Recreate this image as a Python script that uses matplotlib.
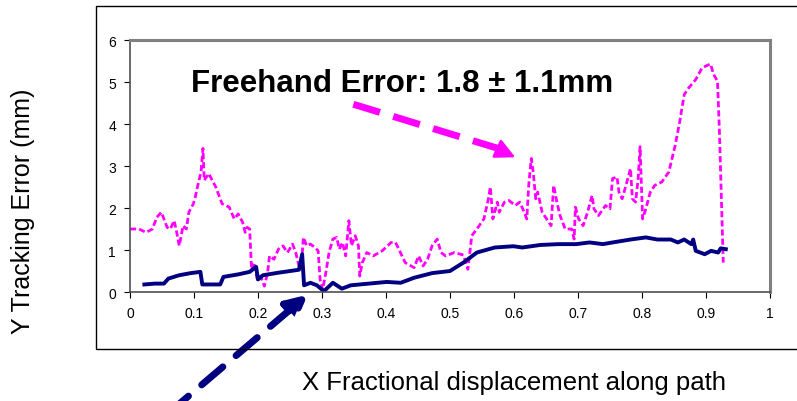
import matplotlib.pyplot as plt
from matplotlib.patches import Rectangle

plt.rcParams['font.family'] = ['Liberation Sans', 'DejaVu Sans']

# guided (navy) tracking error
guided_x = [0.0225, 0.039, 0.053, 0.06, 0.077, 0.095, 0.11, 0.113, 0.141, 0.146,
            0.169, 0.187, 0.197, 0.2, 0.208, 0.232, 0.264, 0.269, 0.272, 0.282,
            0.292, 0.303, 0.317, 0.331, 0.345, 0.373, 0.401, 0.423, 0.444, 0.472,
            0.5, 0.521, 0.542, 0.57, 0.599, 0.613, 0.641, 0.669, 0.697, 0.718,
            0.739, 0.754, 0.782, 0.806, 0.824, 0.845, 0.856, 0.866, 0.877, 0.88,
            0.884, 0.898, 0.908, 0.919, 0.923, 0.931]
guided_y = [0.18, 0.2, 0.2, 0.32, 0.4, 0.45, 0.48, 0.18, 0.18, 0.36,
            0.42, 0.48, 0.6, 0.3, 0.4, 0.46, 0.53, 0.9, 0.16, 0.22,
            0.16, 0.02, 0.22, 0.08, 0.16, 0.2, 0.24, 0.22, 0.34, 0.45,
            0.5, 0.7, 0.94, 1.06, 1.09, 1.06, 1.12, 1.14, 1.14, 1.18,
            1.14, 1.18, 1.25, 1.3, 1.25, 1.25, 1.18, 1.25, 1.14, 1.25,
            0.98, 0.9, 0.98, 0.94, 1.04, 1.02]

# freehand (magenta) tracking error
free_x = [0.0, 0.014, 0.025, 0.035, 0.042, 0.049, 0.058, 0.063, 0.069, 0.073,
          0.077, 0.083, 0.088, 0.092, 0.099, 0.102, 0.106, 0.111, 0.114, 0.116,
          0.123, 0.134, 0.144, 0.155, 0.163, 0.169, 0.176, 0.18, 0.183, 0.187,
          0.19, 0.194, 0.199, 0.204, 0.21, 0.215, 0.218, 0.225, 0.232, 0.239,
          0.246, 0.254, 0.259, 0.264, 0.268, 0.271, 0.276, 0.282, 0.289, 0.294,
          0.297, 0.301, 0.306, 0.311, 0.317, 0.323, 0.327, 0.332, 0.337, 0.342,
          0.346, 0.352, 0.357, 0.359, 0.363, 0.37, 0.38, 0.394, 0.408, 0.415,
          0.43, 0.444, 0.451, 0.458, 0.465, 0.472, 0.48, 0.486, 0.493, 0.507,
          0.521, 0.528, 0.534, 0.542, 0.553, 0.56, 0.563, 0.567, 0.574, 0.577,
          0.585, 0.592, 0.602, 0.609, 0.616, 0.62, 0.623, 0.627, 0.63, 0.634,
          0.637, 0.644, 0.651, 0.658, 0.662, 0.667, 0.672, 0.68, 0.69, 0.694,
          0.696, 0.701, 0.708, 0.715, 0.722, 0.725, 0.732, 0.743, 0.75, 0.754,
          0.761, 0.764, 0.769, 0.775, 0.782, 0.785, 0.79, 0.794, 0.797, 0.801,
          0.806, 0.813, 0.82, 0.831, 0.842, 0.852, 0.859, 0.866, 0.873, 0.884,
          0.894, 0.907, 0.912, 0.918, 0.921, 0.924, 0.927]
free_y = [1.5, 1.5, 1.42, 1.5, 1.78, 1.9, 1.54, 1.5, 1.7, 1.42,
          1.1, 1.58, 1.5, 1.9, 2.1, 2.26, 2.54, 2.86, 3.42, 2.66,
          2.82, 2.5, 2.1, 2.02, 1.74, 1.86, 1.66, 1.42, 1.54, 1.5,
          0.53, 0.7, 0.3, 0.38, 0.14, 0.46, 0.86, 0.78, 1.02, 1.1,
          0.94, 1.14, 0.94, 0.62, 0.7, 1.3, 1.1, 1.14, 1.06, 0.98,
          0.3, 0.06, 0.46, 0.94, 1.26, 1.3, 1.02, 1.18, 0.86, 1.7,
          1.1, 1.34, 1.1, 0.38, 0.7, 0.94, 0.86, 0.98, 1.18, 1.18,
          0.7, 0.58, 0.86, 0.62, 0.78, 1.1, 1.26, 0.94, 0.86, 0.94,
          0.88, 0.54, 1.34, 1.5, 1.74, 2.22, 2.5, 1.74, 2.14, 1.9,
          2.14, 2.18, 2.06, 2.14, 1.9, 1.74, 2.54, 3.18, 2.86, 2.22,
          2.38, 1.9, 1.74, 1.58, 2.54, 2.14, 1.82, 1.5, 1.5, 1.26,
          2.02, 1.74, 1.58, 1.9, 2.3, 1.98, 1.82, 2.06, 1.98, 2.7,
          2.74, 2.38, 2.22, 2.54, 2.94, 2.22, 2.14, 2.7, 3.46, 1.74,
          1.98, 2.38, 2.54, 2.62, 2.86, 3.5, 4.06, 4.7, 4.86, 5.06,
          5.34, 5.43, 5.18, 5.02, 3.82, 2.22, 0.7]

x_ticks = [0, 0.1, 0.2, 0.3, 0.4, 0.5, 0.6, 0.7, 0.8, 0.9, 1]
x_tick_labels = ['0', '0.1', '0.2', '0.3', '0.4', '0.5', '0.6', '0.7', '0.8', '0.9', '1']
y_ticks = [0, 1, 2, 3, 4, 5, 6]

navy = '#000080'
magenta = '#ff00ff'

fig = plt.figure(figsize=(7.97, 4.02), dpi=100)
ax = fig.add_axes([0.1631, 0.2711, 0.8030, 0.6269])

# outer chart box (runs off the right edge)
fig.add_artist(Rectangle((0.1205, 0.129), 0.95, 0.8536, transform=fig.transFigure,
                         fill=False, edgecolor='black', linewidth=1))

ax.plot(free_x, free_y, color=magenta, linewidth=2, dashes=(2.2, 1.1))
ax.plot(guided_x, guided_y, color=navy, linewidth=2.8, solid_joinstyle='round')

ax.set_xlim(0, 1)
ax.set_ylim(0, 6)
ax.set_xticks(x_ticks)
ax.set_xticklabels(x_tick_labels)
ax.set_yticks(y_ticks)
ax.tick_params(labelsize=10, length=4, direction='out', pad=6)

for side in ['top', 'right']:
    ax.spines[side].set_color('#808080')
    ax.spines[side].set_linewidth(2.2)
for side in ['left', 'bottom']:
    ax.spines[side].set_color('#505050')
    ax.spines[side].set_linewidth(1.2)

ax.text(0.095, 4.98, 'Freehand Error: 1.8 \u00b1 1.1mm', fontsize=22.5,
        fontweight='bold', va='center', ha='left')

# magenta dashed arrow pointing at the freehand curve
ax.plot([0.349, 0.590], [4.47, 3.35], color=magenta, linewidth=5,
        dashes=(4, 2), solid_capstyle='butt', clip_on=False)
ax.annotate('', xy=(0.606, 3.18), xytext=(0.585, 3.33),
            arrowprops=dict(arrowstyle='-|>,head_length=1.2,head_width=0.6',
                            color=magenta, lw=2))

# navy dashed arrow coming from below the chart
ax.annotate('', xy=(0.281, -0.02), xytext=(0.055, -2.95),
            arrowprops=dict(arrowstyle='-|>,head_length=1.2,head_width=0.6',
                            color=navy, lw=5, linestyle=(0, (4, 2.5))),
            annotation_clip=False)

fig.text(0.029, 0.475, 'Y Tracking Error (mm)', rotation=90, fontsize=18,
         ha='center', va='center')
fig.text(0.645, 0.047, 'X Fractional displacement along path', fontsize=18.5,
         ha='center', va='center')

plt.savefig('out.png', dpi=100)
